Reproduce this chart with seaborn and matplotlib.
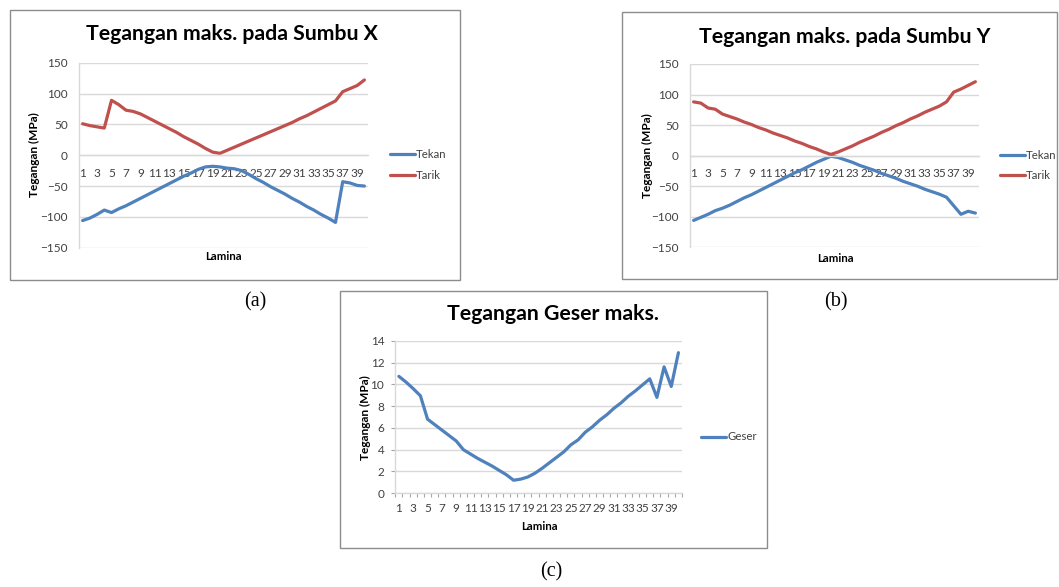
import numpy as np
import pandas as pd
import matplotlib
matplotlib.use("Agg")
import matplotlib.pyplot as plt
import seaborn as sns
from matplotlib.patches import Rectangle

sns.set_theme(style="white")
plt.rcParams['font.family'] = ['Lato', 'DejaVu Sans']

lamina = list(range(1, 41))

x_tekan = [-106, -102, -96, -89, -93, -87, -82, -76, -70, -64,
           -58, -52, -46, -40, -34, -29, -23, -19, -18, -19,
           -21, -22, -25, -31, -38, -44, -51, -57, -63, -70,
           -76, -83, -89, -96, -102, -109, -43, -45, -49, -50]
x_tarik = [51, 48, 46, 44, 89, 82, 73, 71, 67, 61,
           55, 49, 43, 37, 30, 24, 18, 11, 5, 3,
           8, 13, 18, 23, 28, 33, 38, 43, 48, 53,
           59, 64, 70, 76, 82, 88, 103, 108, 113, 122]

y_tekan = [-106, -101, -96, -90, -86, -81, -75, -69, -64, -58,
           -52, -46, -40, -34, -28, -23, -17, -11, -6, -1,
           -3, -7, -11, -16, -20, -24, -29, -33, -37, -42,
           -46, -50, -55, -59, -63, -68, -82, -96, -91, -94]
y_tarik = [88, 86, 78, 76, 68, 64, 60, 55, 51, 46,
           42, 37, 33, 29, 24, 20, 15, 11, 6, 2,
           6, 11, 16, 22, 27, 32, 38, 43, 49, 54,
           60, 65, 71, 76, 81, 88, 104, 109, 115, 121]

geser = [10.73, 10.2, 9.6, 8.95, 6.8, 6.3, 5.8, 5.3, 4.8, 4.0,
         3.6, 3.2, 2.85, 2.5, 2.1, 1.7, 1.2, 1.3, 1.5, 1.85,
         2.3, 2.8, 3.3, 3.8, 4.45, 4.9, 5.6, 6.1, 6.7, 7.2,
         7.8, 8.3, 8.9, 9.4, 9.95, 10.5, 8.8, 11.6, 9.8, 12.9]

titles = ["Tegangan maks. pada Sumbu X", "Tegangan maks. pada Sumbu Y", "Tegangan Geser maks."]
ylabel = "Tegangan (MPa)"
xlabel = "Lamina"
tick_labels = [str(i) for i in range(1, 41, 2)]

W, H = 1059, 587
fig = plt.figure(figsize=(W / 100, H / 100), dpi=100)
fig.patch.set_facecolor("white")

BLUE = "#4F81BD"
RED = "#C0504D"
GRID = "#D9D9D9"
TXT = "#404040"
TS = 8.5


def fx(x):
    return x / W


def fy(y):
    return 1 - y / H


def add_axes(l, t, r, b):
    return fig.add_axes([fx(l), fy(b), (r - l) / W, (b - t) / H])


def border(l, t, r, b):
    fig.add_artist(Rectangle((fx(l), fy(b)), (r - l) / W, (b - t) / H,
                             transform=fig.transFigure, fill=False,
                             edgecolor="#8C8C8C", linewidth=1.0))


def style_axes(ax, ylim, yticks, zero_axis):
    ax.set_xlim(0.5, 40.5)
    ax.set_ylim(*ylim)
    ax.set_yticks(yticks)
    ax.set_xticks(list(range(1, 41, 2)))
    ax.set_xticklabels(tick_labels)
    ax.grid(axis="y", color=GRID, linewidth=1.0)
    ax.grid(axis="x", visible=False)
    for s in ["top", "right"]:
        ax.spines[s].set_visible(False)
    ax.spines["left"].set_color(GRID)
    ax.spines["bottom"].set_color(GRID)
    ax.spines["left"].set_linewidth(1.0)
    ax.spines["bottom"].set_linewidth(1.0)
    if zero_axis:
        ax.spines["bottom"].set_position(("data", 0))
        ax.tick_params(axis="x", length=0, pad=9, labelsize=TS, labelcolor=TXT)
        ax.tick_params(axis="y", length=0, pad=8, labelsize=TS, labelcolor=TXT)
    else:
        ax.set_xticks(np.arange(0.5, 41, 1), minor=True)
        ax.tick_params(axis="x", which="major", length=0, pad=7, labelsize=TS, labelcolor=TXT)
        ax.tick_params(axis="x", which="minor", length=3, width=0.8, color="#A6A6A6", direction="out", bottom=True)
        ax.tick_params(axis="y", length=3, width=0.8, color="#A6A6A6", direction="out", left=True,
                       pad=5, labelsize=TS, labelcolor=TXT)
    ax.set_xlabel("")
    ax.set_ylabel("")
    ax.set_facecolor("white")


def legend(ax, x, y):
    ax.legend(loc="center left", bbox_to_anchor=(fx(x), fy(y)),
              bbox_transform=fig.transFigure, frameon=False, fontsize=8.2,
              handlelength=2.2, handletextpad=0.1, labelspacing=0.85,
              borderpad=0, borderaxespad=0, labelcolor=TXT)


def texts(title_xy, yl_xy, xl_xy):
    fig.text(fx(title_xy[0]), fy(title_xy[1]), title_xy[2], ha="center", va="center",
             fontsize=15.3, fontweight="bold", color="black")
    fig.text(fx(yl_xy[0]), fy(yl_xy[1]), ylabel, ha="center", va="center", rotation=90,
             fontsize=8.6, fontweight="bold", color="black")
    fig.text(fx(xl_xy[0]), fy(xl_xy[1]), xlabel, ha="center", va="center",
             fontsize=8.2, fontweight="bold", color="black")


# (a)
border(10, 10, 460, 280)
df_a = pd.DataFrame({"Lamina": lamina * 2, "Tegangan": x_tekan + x_tarik,
                     "Seri": ["Tekan"] * 40 + ["Tarik"] * 40})
ax1 = add_axes(79, 62.7, 368, 247.7)
sns.lineplot(data=df_a, x="Lamina", y="Tegangan", hue="Seri", palette=[BLUE, RED],
             linewidth=2.3, ax=ax1)
style_axes(ax1, (-150, 150), [-150, -100, -50, 0, 50, 100, 150], True)
legend(ax1, 390, 165)
texts((232, 34, titles[0]), (34, 155), (223, 257))

# (b)
border(622, 12, 1057, 279)
df_b = pd.DataFrame({"Lamina": lamina * 2, "Tegangan": y_tekan + y_tarik,
                     "Seri": ["Tekan"] * 40 + ["Tarik"] * 40})
ax2 = add_axes(690, 64, 979, 247.3)
sns.lineplot(data=df_b, x="Lamina", y="Tegangan", hue="Seri", palette=[BLUE, RED],
             linewidth=2.3, ax=ax2)
style_axes(ax2, (-150, 150), [-150, -100, -50, 0, 50, 100, 150], True)
legend(ax2, 1000, 165.5)
texts((845, 37, titles[1]), (647, 156), (835, 258))

# (c)
border(340, 291, 767, 548)
df_c = pd.DataFrame({"Lamina": lamina, "Tegangan": geser, "Seri": ["Geser"] * 40})
ax3 = add_axes(395.3, 340.7, 682, 493.3)
sns.lineplot(data=df_c, x="Lamina", y="Tegangan", hue="Seri", palette=[BLUE],
             linewidth=2.3, ax=ax3)
style_axes(ax3, (0, 14), [0, 2, 4, 6, 8, 10, 12, 14], False)
legend(ax3, 701, 437)
texts((553, 314, titles[2]), (365, 418), (539, 527))

for lbl, (x, y) in zip(["(a)", "(b)", "(c)"], [(255, 301.5), (836, 301.5), (551, 572)]):
    fig.text(fx(x), fy(y), lbl, ha="center", va="center", fontsize=14.5,
             family=["Liberation Serif", "DejaVu Serif"], color="black")

fig.savefig("out.png", dpi=100, facecolor="white")
